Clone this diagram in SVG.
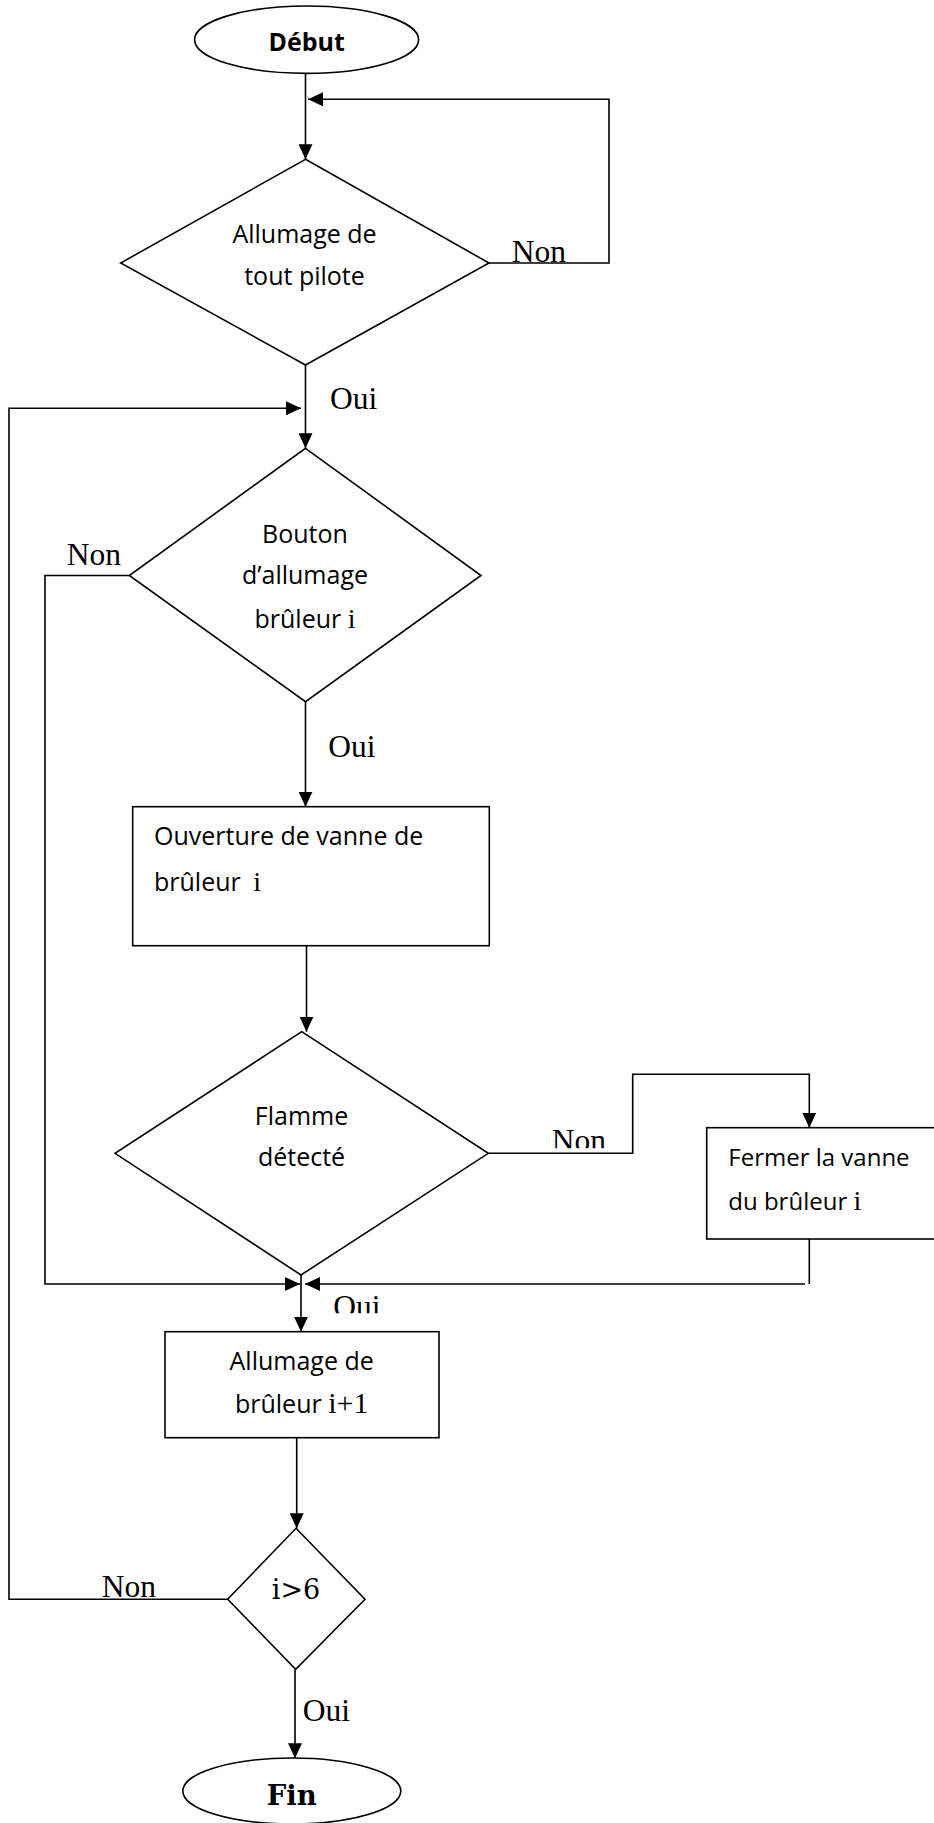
<svg xmlns="http://www.w3.org/2000/svg" width="934" height="1823" viewBox="0 0 934 1823">
  <defs>
    <style>
      .shape{fill:#fff;stroke:#000;stroke-width:1.6}
      .edge{fill:none;stroke:#000;stroke-width:1.6}
      .t{font-family:"Open Sans","Noto Sans",sans-serif;font-size:25px;fill:#000}
      .b{font-weight:bold}
      .m{font-family:"Liberation Serif","DejaVu Serif",serif;font-size:28px}
      .lbl{font-family:"Liberation Serif","DejaVu Serif",serif;font-size:31.5px;fill:#000}
      .cond{font-family:"DejaVu Serif",serif;font-size:27px;fill:#000}
      .fin{font-family:"DejaVu Serif",serif;font-weight:bold;font-size:27.5px;fill:#000}
    </style>
    <marker id="arr" markerUnits="userSpaceOnUse" markerWidth="15" markerHeight="14" refX="15" refY="7" orient="auto">
      <path d="M0,0 L15,7 L0,14 z" fill="#000"/>
    </marker>
    <clipPath id="clipNonFlamme"><rect x="540" y="1100" width="90" height="48.3"/></clipPath>
    <clipPath id="clipOuiFlamme"><rect x="320" y="1286" width="90" height="27.3"/></clipPath>
  </defs>

  <rect width="934" height="1823" fill="#fff"/>

  <!-- connectors -->
  <g id="connectors">
    <path class="edge" d="M305.5,73.3 V159.3" marker-end="url(#arr)"/>
    <path class="edge" d="M489,263 H609 V99.3 H308" marker-end="url(#arr)"/>
    <path class="edge" d="M305.5,365 V448.3" marker-end="url(#arr)"/>
    <path class="edge" d="M227.7,1599.3 H9 V408.3 H301" marker-end="url(#arr)"/>
    <path class="edge" d="M129.3,575.5 H45 V1284 H300" marker-end="url(#arr)"/>
    <path class="edge" d="M305.5,701.7 V806.7" marker-end="url(#arr)"/>
    <path class="edge" d="M306.5,945.7 V1031.7" marker-end="url(#arr)"/>
    <path class="edge" d="M488.3,1153.3 H632.7 V1074.3 H809.3 V1127.7" marker-end="url(#arr)"/>
    <path class="edge" d="M809.3,1239 V1284"/>
    <path class="edge" d="M805,1284 H305" marker-end="url(#arr)"/>
    <path class="edge" d="M301,1275 V1331.7" marker-end="url(#arr)"/>
    <path class="edge" d="M296.7,1437.7 V1528.3" marker-end="url(#arr)"/>
    <path class="edge" d="M295,1669.3 V1758.3" marker-end="url(#arr)"/>

    <!-- branch labels -->
    <text class="lbl" x="511.7" y="261.7">Non</text>
    <text class="lbl" x="330" y="409.3">Oui</text>
    <text class="lbl" x="66.7" y="565">Non</text>
    <text class="lbl" x="328.3" y="757.3">Oui</text>
    <text class="lbl" x="551.7" y="1150.5" clip-path="url(#clipNonFlamme)">Non</text>
    <text class="lbl" x="333.3" y="1317" clip-path="url(#clipOuiFlamme)">Oui</text>
    <text class="lbl" x="101.7" y="1596.7">Non</text>
    <text class="lbl" x="302.7" y="1720.7">Oui</text>
  </g>

  <g id="debut">
    <ellipse class="shape" cx="306.6" cy="39.7" rx="112" ry="33.7"/>
    <text class="t b" x="306.6" y="50.7" text-anchor="middle">Début</text>
  </g>

  <g id="allumage-pilote">
    <polygon class="shape" points="305.5,159.3 489,263 305.5,365 120.7,263"/>
    <text class="t" x="304.5" y="243.3" text-anchor="middle">Allumage de</text>
    <text class="t" x="304.5" y="285" text-anchor="middle">tout pilote</text>
  </g>

  <g id="bouton-allumage">
    <polygon class="shape" points="305.5,448.3 481,575.5 305.5,701.7 129.3,575.5"/>
    <text class="t" x="305" y="543.3" text-anchor="middle">Bouton</text>
    <text class="t" x="305" y="584" text-anchor="middle">d’allumage</text>
    <text class="t" x="305" y="628.3" text-anchor="middle">brûleur <tspan class="m">i</tspan></text>
  </g>

  <g id="ouverture-vanne">
    <rect class="shape" x="132.7" y="806.7" width="356.6" height="139"/>
    <text class="t" x="154" y="845">Ouverture de vanne de</text>
    <text class="t" x="154" y="890.7">brûleur <tspan class="m" dx="6">i</tspan></text>
  </g>

  <g id="flamme-detecte">
    <polygon class="shape" points="301.7,1031.7 488.3,1153.3 301,1275 115,1153.3"/>
    <text class="t" x="301.5" y="1125" text-anchor="middle">Flamme</text>
    <text class="t" x="301.5" y="1165.7" text-anchor="middle">détecté</text>
  </g>

  <g id="fermer-vanne">
    <rect class="shape" x="706.7" y="1127.7" width="240" height="111.3"/>
    <text class="t" x="728.3" y="1166" style="font-size:24px">Fermer la vanne</text>
    <text class="t" x="728.3" y="1210" style="font-size:24px">du brûleur <tspan class="m">i</tspan></text>
  </g>

  <g id="allumage-suivant">
    <rect class="shape" x="165" y="1331.7" width="274" height="106"/>
    <text class="t" x="301.7" y="1370" text-anchor="middle">Allumage de</text>
    <text class="t" x="301.7" y="1413.3" text-anchor="middle">brûleur <tspan class="m" style="font-size:30px">i+1</tspan></text>
  </g>

  <g id="test-i">
    <polygon class="shape" points="296,1528.3 365,1599.3 295.7,1669.3 227.7,1599.3"/>
    <text class="cond" x="296" y="1599" text-anchor="middle">i&gt;6</text>
  </g>

  <g id="fin">
    <ellipse class="shape" cx="291.8" cy="1791" rx="109" ry="33"/>
    <text class="fin" x="291.7" y="1805" text-anchor="middle">Fin</text>
  </g>
</svg>
